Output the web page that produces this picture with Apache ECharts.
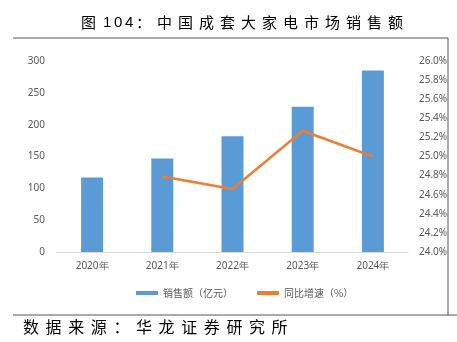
<!DOCTYPE html>
<html><head><meta charset="utf-8">
<script src="https://cdn.jsdelivr.net/npm/echarts@6/dist/echarts.min.js"></script>
<style>html,body{margin:0;padding:0;background:#fff}#c{width:457px;height:342px}</style>
</head><body><div id="c"></div>
<script>
const categories = ['2020年','2021年','2022年','2023年','2024年'];
const sales = [117, 147, 182, 228, 285];
const growth = [null, 24.79, 24.66, 25.27, 25.00];
const leftTicks = {min: 0, max: 300, interval: 50};
const rightTicks = {min: 24, max: 26, interval: 0.2};
const titleText = '图 104：中国成套大家电市场销售额';
const sourceText = '数据来源：华龙证券研究所';

// spaced rich-text builder (each character gets a fixed-width token)
function spaced(str) {
  return str.split('').filter(c => c !== ' ').map(c => /[0-9]/.test(c) ? '{n|' + c + '}' : (c === '图' ? '{g|' + c + '}' : '{w|' + c + '}')).join('');
}

const chart = echarts.init(document.getElementById('c'));
const lab = {color: '#595959', fontSize: 10, fontFamily: 'Noto Sans, sans-serif'};
const cjk = 'Noto Sans CJK SC';
chart.setOption({
  animation: false,
  title: {text: spaced(titleText), left: 76, top: 10,
    textStyle: {fontSize: 15, fontWeight: 'normal', color: '#000', fontFamily: cjk,
      rich: {
        g: {width: 22, fontSize: 15, fontFamily: cjk, color: '#000'},
        n: {width: 11, fontSize: 15, fontFamily: 'Liberation Sans', color: '#000'},
        w: {width: 21, fontSize: 15, fontFamily: cjk, color: '#000'}
      }}},
  graphic: [
    {type: 'line', shape: {x1: 13, y1: 38, x2: 448, y2: 38}, style: {stroke: '#555', lineWidth: 1}},
    {type: 'line', shape: {x1: 448, y1: 38, x2: 448, y2: 315}, style: {stroke: '#555', lineWidth: 1}},
    {type: 'line', shape: {x1: 13, y1: 315, x2: 457, y2: 315}, style: {stroke: '#555', lineWidth: 1}},
    {type: 'text', left: 23, top: 319, style: {
      text: sourceText.split('').map(c => '{s|' + c + '}').join(''),
      rich: {s: {width: 22.6, fontSize: 16, fontFamily: cjk, fill: '#000'}},
      fontSize: 16, fill: '#000', fontFamily: cjk}}
  ],
  legend: {top: 283, left: 131, itemGap: 24, itemWidth: 22, itemHeight: 4,
    textStyle: {color: '#595959', fontSize: 10, fontFamily: cjk},
    data: [{name: '销售额（亿元）', icon: 'rect'}, {name: '同比增速（%）', icon: 'rect'}]},
  grid: {left: 57, right: 49, top: 61, bottom: 90},
  xAxis: {type: 'category', data: categories,
    axisLine: {lineStyle: {color: '#d9d9d9'}}, axisTick: {show: false},
    axisLabel: Object.assign({margin: 9}, lab)},
  yAxis: [
    Object.assign({type: 'value', splitLine: {show: false}, axisLine: {show: false},
      axisTick: {show: false}, axisLabel: Object.assign({margin: 12}, lab)}, leftTicks),
    Object.assign({type: 'value', splitLine: {show: false}, axisLine: {show: false},
      axisTick: {show: false}, axisLabel: Object.assign({margin: 11, formatter: v => v.toFixed(1) + '%'}, lab)}, rightTicks)
  ],
  series: [
    {name: '销售额（亿元）', type: 'bar', data: sales, barWidth: 22, itemStyle: {color: '#5b9bd5'}},
    {name: '同比增速（%）', type: 'line', yAxisIndex: 1, data: growth, symbol: 'none',
      lineStyle: {color: '#ed7d31', width: 2.5}, itemStyle: {color: '#ed7d31'}}
  ]
});
</script></body></html>
